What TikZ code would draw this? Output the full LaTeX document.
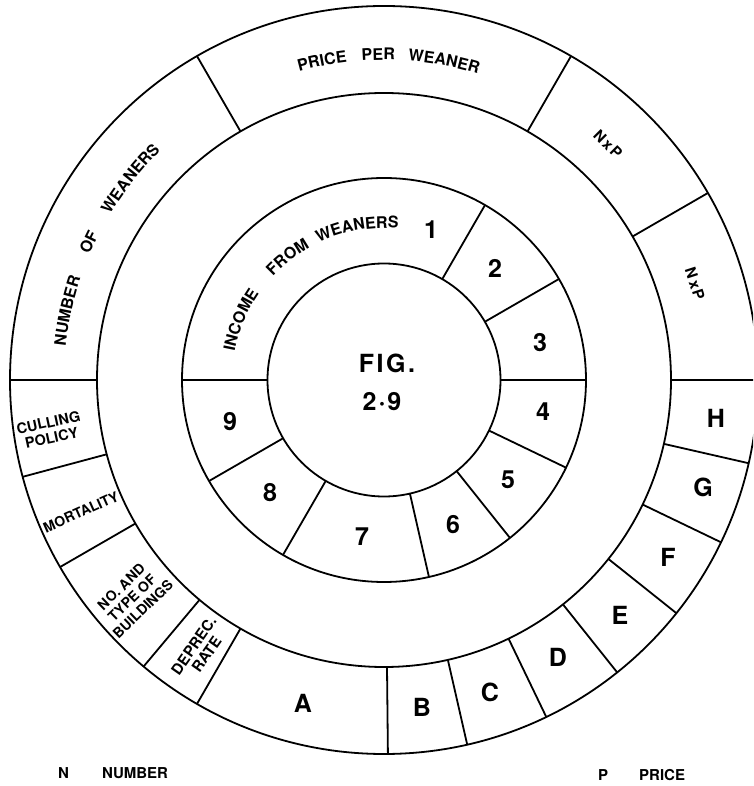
\documentclass[tikz,border=0pt]{standalone}
\usepackage{fontspec}
\setmainfont{TeX Gyre Heros}
\usetikzlibrary{decorations.text}
\newcommand{\ringfont}{\fontsize{16}{16}\selectfont\bfseries}
\newcommand{\ringword}[3]{\path[decorate,decoration={text along path,text align=center,text={|\ringfont|#3}}] ({#1+30}:#2) arc[start angle={#1+30}, end angle={#1-30}, radius=#2];}
\begin{document}
\begin{tikzpicture}[x=1pt,y=1pt,
  ringline/.style={line width=1.8pt},
  big/.style={font=\fontsize{25}{25}\selectfont\bfseries, inner sep=0pt},
  lbl/.style={font=\fontsize{14.5}{15.5}\selectfont\bfseries, inner sep=0pt, align=center},
  nxp/.style={font=\fontsize{15}{15}\selectfont\bfseries, inner sep=0pt},
  legend/.style={font=\fontsize{15}{15}\selectfont\bfseries, inner sep=0pt, anchor=west}]
\clip (-384,-406) rectangle (369,380);
\fill[white] (-384,-406) rectangle (369,380);
\coordinate (O) at (0,0);
\def\ra{374}\def\rb{287}\def\rc{202}\def\rd{116.5}
% circles
\draw[ringline] (O) circle[radius=\ra];
\draw[ringline] (O) circle[radius=\rb];
\draw[ringline] (O) circle[radius=\rc];
\draw[ringline] (O) circle[radius=\rd];
% outer ring dividers
\foreach \a in {180,120,60,30,0,195,210,230,240,270.6}
  \draw[ringline] (\a:\rb) -- (\a:\ra);
\foreach \k in {1,...,6}
  \draw[ringline] ({270+\k*90/7}:\rb) -- ({270+\k*90/7}:\ra);
% inner ring dividers
\foreach \a in {180,60,30,0,240,210}
  \draw[ringline] (\a:\rd) -- (\a:\rc);
\foreach \k in {1,2,3}
  \draw[ringline] ({-\k*180/7}:\rd) -- ({-\k*180/7}:\rc);
% curved labels
\ringword{167.7}{320}{NUMBER}
\ringword{155}{320}{OF}
\ringword{141.6}{320}{WEANERS}
\ringword{101}{320}{PRICE}
\ringword{91}{320}{PER}
\ringword{79.3}{320}{WEANER}
\ringword{157.3}{152}{INCOME}
\ringword{128}{152}{FROM}
\ringword{100}{152}{WEANERS}
% N x P
\node[nxp, rotate=-45] (np1) at (224,236) {N\kern2pt x\kern2pt P};
\node[nxp, rotate=-72] (np2) at (311,96) {N\kern2pt x\kern2pt P};
% numbers
\node[big] (n1) at (47,150) {1};
\node[big] (n2) at (111,112) {2};
\node[big] (n3) at (156,37) {3};
\node[big] (n4) at (159,-32) {4};
\node[big] (n5) at (124,-100) {5};
\node[big] (n6) at (69,-145) {6};
\node[big] (n7) at (-22,-157) {7};
\node[big] (n8) at (-114,-113) {8};
\node[big] (n9) at (-154,-42) {9};
% letters
\node[big] (lA) at (-81,-323) {A};
\node[big] (lB) at (38,-327) {B};
\node[big] (lC) at (106,-312) {C};
\node[big] (lD) at (174,-277) {D};
\node[big] (lE) at (236,-235) {E};
\node[big] (lF) at (284,-177) {F};
\node[big] (lG) at (319,-107) {G};
\node[big] (lH) at (332,-38) {H};
% left labels
\node[lbl, rotate=12] (cull) at (-334,-50) {CULLING\\POLICY};
\node[lbl, rotate=24, font=\fontsize{14}{14}\selectfont\bfseries] (mort) at (-303,-132) {MORTALITY};
\node[lbl, rotate=44, font=\fontsize{14}{15.5}\selectfont\bfseries] (bldg) at (-252,-218) {NO. AND\\TYPE OF\\BUILDINGS};
\node[lbl, rotate=55, font=\fontsize{15}{15.5}\selectfont\bfseries] (depr) at (-184,-270) {DEPREC.\\RATE};
% centre
\node[big] (fig) at (3,17) {\addfontfeature{LetterSpace=10}FIG.};
\node[big] (fignum) at (-2,-22) {2\kern2pt·\kern2pt9};
% legend
\node[legend] (legN) at (-326,-393) {N};
\node[legend] (legNumber) at (-282,-393) {NUMBER};
\node[legend] (legP) at (214,-395) {P};
\node[legend] (legPrice) at (255,-395) {PRICE};
\end{tikzpicture}
\end{document}
